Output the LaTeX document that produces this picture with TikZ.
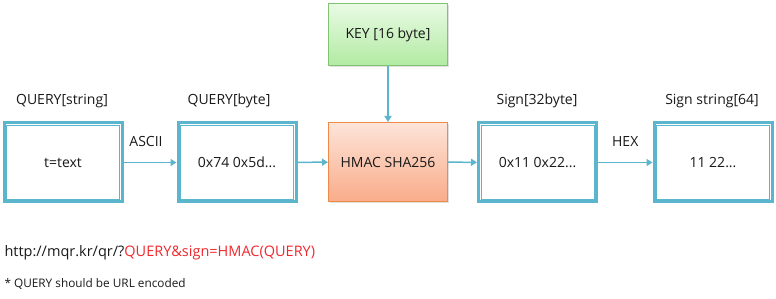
\documentclass[tikz,border=0pt]{standalone}
\usepackage{fontspec}
\setmainfont{Open Sans}
\usepackage{xcolor}
\usetikzlibrary{positioning,arrows.meta,calc,shadows}

\definecolor{qblue}{HTML}{5BB5CC}
\definecolor{keyline}{HTML}{82C273}
\definecolor{keytop}{HTML}{E9FBE4}
\definecolor{keybot}{HTML}{B2EAA3}
\definecolor{macline}{HTML}{F08A4B}
\definecolor{mactop}{HTML}{FDE4D8}
\definecolor{macbot}{HTML}{F9AC8A}
\definecolor{urlred}{HTML}{F0282D}

\begin{document}
\begin{tikzpicture}[
  x=1pt, y=-1pt,
  every node/.style={font=\fontsize{14pt}{16pt}\selectfont, text=black!90},
  qbox/.style={draw=qblue, line width=3pt, fill=white, minimum width=118pt, minimum height=79pt, align=center},
  inner/.style={draw=qblue, line width=1pt},
  keybox/.style={draw=keyline, line width=1pt, top color=keytop, bottom color=keybot, minimum width=119pt, minimum height=62pt, drop shadow={shadow xshift=1.5pt, shadow yshift=-1.5pt, opacity=0.25}},
  macbox/.style={draw=macline, line width=1pt, top color=mactop, bottom color=macbot, minimum width=119pt, minimum height=79pt, drop shadow={shadow xshift=1.5pt, shadow yshift=-1.5pt, opacity=0.25}},
  flow/.style={draw=qblue, line width=1.5pt, -{Triangle[length=6pt, width=7pt]}},
  >=Stealth
]
\useasboundingbox (0,0) rectangle (776,299);

\node[qbox] (str) at (63,162.5) {t=text};
\node[qbox] (byt) at (237,162.5) {0x74 0x5d...};
\node[macbox] (hmac) at (388,162) {HMAC SHA256};
\node[keybox] (key) at (388,34.5) {KEY [16 byte]};
\node[qbox] (sig) at (537.5,162.5) {0x11 0x22...};
\node[qbox] (hex) at (713,162.5) {11 22...};

% thin inner frame of the double boxes
\foreach \n in {str,byt,sig,hex}
  \draw[inner] ($(\n.north west)+(4pt,-4pt)$) rectangle ($(\n.south east)+(-4pt,4pt)$);

\node (strlbl) at (62,101) {QUERY[string]};
\node (bytlbl) at (229,101) {QUERY[byte]};
\node (siglbl) at (537,101) {Sign[32byte]};
\node (hexlbl) at (712,101) {Sign string[64]};

\draw[flow] (str) -- node[above=12pt, xshift=-4pt] (ascii) {ASCII} (byt);
\draw[flow] (byt) -- (hmac);
\draw[flow] (key) -- (hmac);
\draw[flow] (hmac) -- (sig);
\draw[flow] (sig) -- node[above=12pt] (hexlab) {HEX} (hex);

\node[anchor=west, font=\fontsize{14.5pt}{16pt}\selectfont] (url) at (1,253) {http://mqr.kr/qr/?\textcolor{urlred}{QUERY\&sign=HMAC(QUERY)}};
\node[anchor=west, font=\fontsize{11.8pt}{13pt}\selectfont] (note) at (1,284) {* QUERY should be URL encoded};
\end{tikzpicture}
\end{document}
